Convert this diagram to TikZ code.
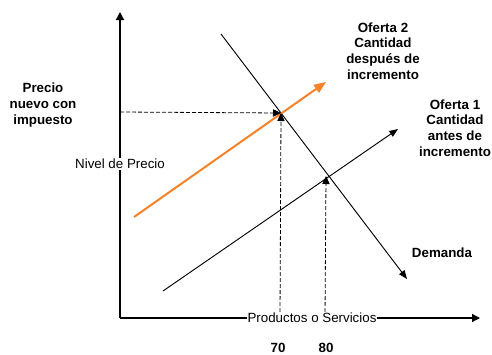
\documentclass[tikz,border=0pt]{standalone}
\usepackage{fontspec}
\setmainfont{Liberation Sans}
\usetikzlibrary{arrows.meta}
\definecolor{ofertaorange}{RGB}{245,130,40}
\tikzset{
  axisline/.style={line width=1pt,-{Triangle[length=6pt,width=6pt]}},
  curve/.style={line width=0.7pt,-{Triangle[length=6.5pt,width=5pt]}},
  orangecurve/.style={line width=1.5pt,ofertaorange,-{Triangle[length=9pt,width=7pt]}},
  guide/.style={line width=0.6pt,dash pattern=on 3pt off 1.5pt,-{Triangle[length=6pt,width=5.5pt]}},
  axislabel/.style={fill=white,inner sep=0.5pt,font=\fontsize{10}{11.5}\selectfont},
  boldlabel/.style={align=center,inner sep=0pt,font=\fontsize{10}{11.8}\selectfont\bfseries}
}
\begin{document}
\begin{tikzpicture}[x=0.75pt,y=-0.75pt]
\useasboundingbox (0,0) rectangle (492,354);
% axes
\coordinate (O) at (120,318);
\coordinate (Ytop) at (120,12);
\coordinate (Xend) at (480,318);
\draw[axisline] (O) -- (Ytop);
\draw[axisline] (O) -- (Xend);
% points
\coordinate (P2) at (281,113);
\coordinate (P1) at (326,176);
\coordinate (H0) at (120,112);
\coordinate (V70) at (280,318);
\coordinate (V80) at (325,318);
% demand
\coordinate (Dstart) at (221,34);
\coordinate (Dend) at (407,279);
\draw[curve] (Dstart) -- (Dend);
% oferta 1
\coordinate (S1start) at (163,291);
\coordinate (S1end) at (398,129);
\draw[curve] (S1start) -- (S1end);
% oferta 2
\coordinate (S2start) at (134,217);
\coordinate (S2end) at (326,82);
\draw[orangecurve] (S2start) -- (S2end);
% guides
\draw[guide] (H0) -- (P2);
\draw[guide] (V70) -- (P2);
\draw[guide] (V80) -- (P1);
% axis labels
\node[axislabel] (ylab) at (120,164) {Nivel de Precio};
\node[axislabel] (xlab) at (312,318) {Productos o Servicios};
% bold labels
\node[boldlabel] (precio) at (43,105) {Precio\\nuevo con\\impuesto};
\node[boldlabel] (of2) at (383,51) {Oferta 2\\Cantidad\\después de\\incremento};
\node[boldlabel] (of1) at (455,128) {Oferta 1\\Cantidad\\antes de\\incremento};
\node[boldlabel] (dem) at (442,253) {Demanda};
\node[boldlabel] (q70) at (278,348) {70};
\node[boldlabel] (q80) at (326,348) {80};
\end{tikzpicture}
\end{document}
